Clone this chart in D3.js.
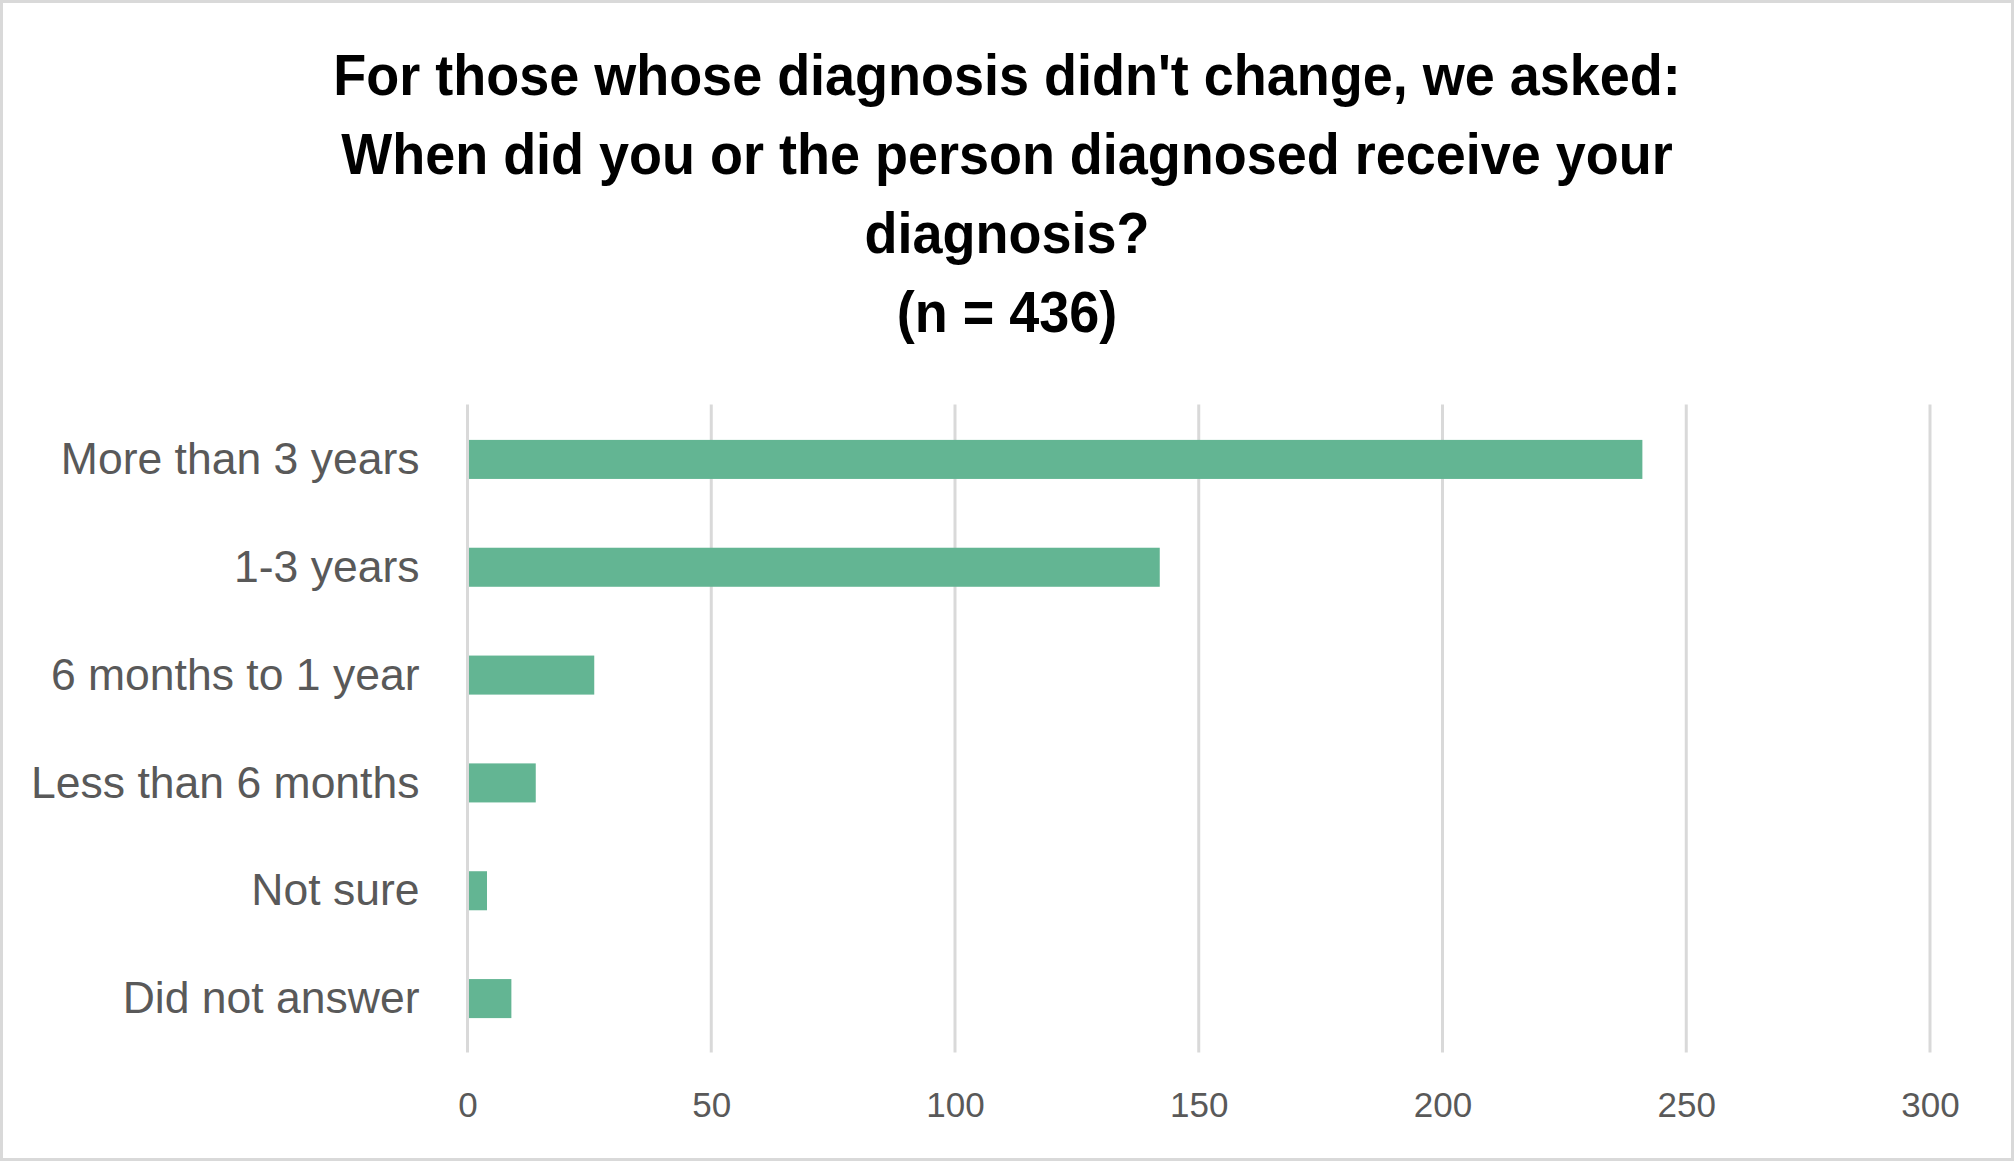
<!DOCTYPE html>
<html>
<head>
<meta charset="utf-8">
<script src="https://cdn.jsdelivr.net/npm/d3@7"></script>
<style>
    html, body { margin: 0; padding: 0; background: #fff; }
    svg { display: block; }
</style>
</head>
<body>
<svg id="chart"></svg>
<script>
// survey answers
const categories = ["More than 3 years", "1-3 years", "6 months to 1 year", "Less than 6 months", "Not sure", "Did not answer"];
const counts = [241, 142, 26, 14, 4, 9];
const xTicks = [0, 50, 100, 150, 200, 250, 300];
const titleLines = [
    "For those whose diagnosis didn't change, we asked:",
    "When did you or the person diagnosed receive your",
    "diagnosis?",
    "(n = 436)"
];

const W = 2014, H = 1161;
const plot = {left: 467.5, right: 1930, top: 405.5, bottom: 1052.5};

const svg = d3.select("#chart")
    .attr("width", W)
    .attr("height", H);

// chart frame
svg.append("rect")
    .attr("x", 1.5).attr("y", 1.5)
    .attr("width", W - 3).attr("height", H - 3)
    .attr("fill", "#fff")
    .attr("stroke", "#d9d9d9")
    .attr("stroke-width", 3);

const x = d3.scaleLinear()
    .domain([0, 300])
    .range([plot.left, plot.right]);

const y = d3.scaleBand()
    .domain(categories)
    .range([plot.top, plot.bottom])
    .paddingInner(0.638)
    .paddingOuter(0.319);

// title
let titleG = svg.append("g").attr("id", "title");
titleG.selectAll("text")
    .data(titleLines)
    .join("text")
    .attr("transform", (d, i) => `translate(${W / 2}, ${95 + i * 79}) scale(0.947, 1)`)
    .attr("text-anchor", "middle")
    .style("font-family", "'Liberation Sans', Arial, sans-serif")
    .style("font-weight", "bold")
    .style("font-size", "57px")
    .style("fill", "#000")
    .text(d => d);

// vertical gridlines
svg.append("g").attr("id", "grid")
    .selectAll("line")
    .data(xTicks)
    .join("line")
    .attr("x1", d => x(d)).attr("x2", d => x(d))
    .attr("y1", plot.top - 1).attr("y2", plot.bottom)
    .attr("stroke", "#d9d9d9")
    .attr("stroke-width", 3);

// bars
svg.append("g").attr("id", "bars")
    .selectAll("rect")
    .data(categories.map((c, i) => ({cat: c, v: counts[i]})))
    .join("rect")
    .attr("x", x(0) + 1.5)
    .attr("y", d => y(d.cat))
    .attr("width", d => x(d.v) - x(0) - 1.5)
    .attr("height", y.bandwidth())
    .attr("fill", "#63b593");

// x axis (labels only, no domain line)
const xAxis = svg.append("g")
    .attr("transform", `translate(0, ${plot.bottom})`)
    .call(d3.axisBottom(x).tickValues(xTicks).tickSize(0).tickPadding(64));
xAxis.select(".domain").remove();
xAxis.selectAll("text")
    .attr("dy", 0)
    .style("font-family", "'Liberation Sans', Arial, sans-serif")
    .style("font-size", "35px")
    .style("fill", "#595959");

// y axis category labels
const yAxis = svg.append("g")
    .attr("transform", `translate(${plot.left}, 0)`)
    .call(d3.axisLeft(y).tickSize(0).tickPadding(48));
yAxis.select(".domain").remove();
yAxis.selectAll("text")
    .attr("dy", "0.33em")
    .style("font-family", "'Liberation Sans', Arial, sans-serif")
    .style("font-size", "44.5px")
    .style("fill", "#595959");
</script>
</body>
</html>
